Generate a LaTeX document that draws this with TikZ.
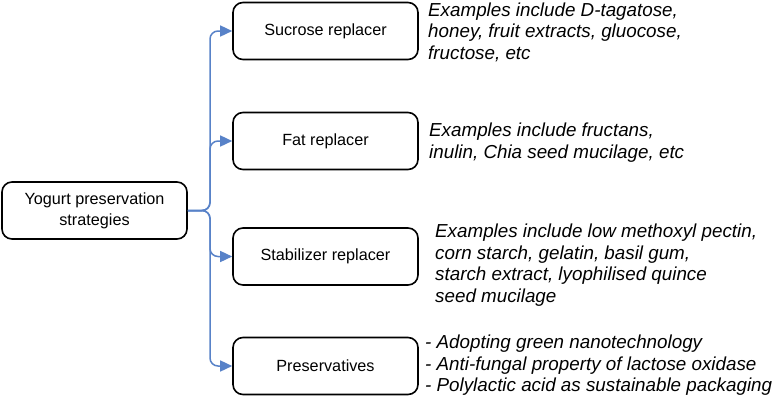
\documentclass[tikz,border=0pt]{standalone}
\usepackage{fontspec}
\setmainfont{Liberation Sans}
\usetikzlibrary{arrows.meta}
\definecolor{linkblue}{RGB}{88,130,200}
\begin{document}
\begin{tikzpicture}[x=1pt,y=-1pt,
  box/.style={draw=black, line width=1.6pt, rounded corners=10pt, minimum width=185pt, minimum height=57pt, align=center, font=\fontsize{16.2}{21}\selectfont, inner sep=0pt},
  note/.style={anchor=west, align=left, inner sep=0pt, font=\fontsize{18.8}{21.5}\selectfont\itshape},
  link/.style={draw=linkblue, line width=1.5pt, rounded corners=8pt, -{Triangle[length=12pt,width=11pt]}}]
\useasboundingbox (0,0) rectangle (774,400);
\node[box] (yog) at (94.5,210.5) {Yogurt preservation\\strategies};
\node[box] (suc) at (325.5,31) {Sucrose replacer};
\node[box] (fat) at (325.5,141) {Fat replacer};
\node[box] (stab) at (325.5,256.5) {Stabilizer replacer};
\node[box] (pres) at (325.5,366) {Preservatives};
\coordinate (j) at (210,210.5);
\draw[link] (yog.east) -- (j) |- (suc.west);
\draw[link] (yog.east) -- (j) |- (fat.west);
\draw[link] (yog.east) -- (j) |- (stab.west);
\draw[link] (yog.east) -- (j) |- (pres.west);
\node[note] (suct) at (428,32) {Examples include D-tagatose,\\honey, fruit extracts, gluocose,\\fructose, etc};
\node[note] (fatt) at (429,142.5) {Examples include fructans,\\inulin, Chia seed mucilage, etc};
\node[note] (stabt) at (435,265) {Examples include low methoxyl pectin,\\corn starch, gelatin, basil gum,\\starch extract, lyophilised quince\\seed mucilage};
\node[note] (prest) at (425,365.5) {- Adopting green nanotechnology\\- Anti-fungal property of lactose oxidase\\- Polylactic acid as sustainable packaging};
\end{tikzpicture}
\end{document}
